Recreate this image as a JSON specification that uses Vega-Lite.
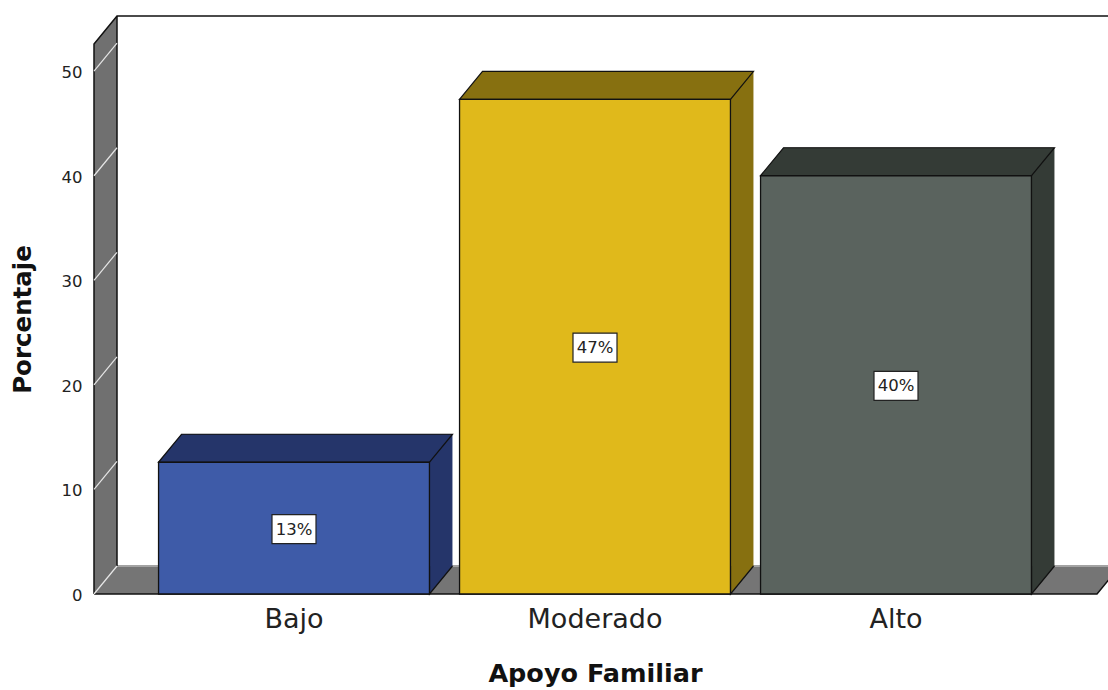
{
  "$schema": "https://vega.github.io/schema/vega-lite/v6.json",
  "width": 1014,
  "height": 550,
  "autosize": "none",
  "padding": {"left": 94, "top": 44, "right": 0, "bottom": 96},
  "background": "white",
  "config": {"view": {"stroke": null}},
  "datasets": {
    "apoyo": [
      {"nivel": "Bajo", "pct": 12.6},
      {"nivel": "Moderado", "pct": 47.3},
      {"nivel": "Alto", "pct": 40.0}
    ],
    "pared": [
      {"x": 0, "y": 0, "y2": 52.6},
      {"x": 23, "y": 2.68, "y2": 55.28}
    ],
    "piso": [
      {"x": 0, "y": 0, "y2": 0},
      {"x": 23, "y": 0, "y2": 2.68},
      {"x": 1003, "y": 0, "y2": 2.68},
      {"x": 1026, "y": 2.68, "y2": 2.68}
    ],
    "bordes": [
      {"borde": "exterior", "n": 1, "x": 0, "y": 0},
      {"borde": "exterior", "n": 2, "x": 0, "y": 52.6},
      {"borde": "exterior", "n": 3, "x": 23, "y": 55.28},
      {"borde": "exterior", "n": 4, "x": 1026, "y": 55.28},
      {"borde": "fondo", "n": 1, "x": 23, "y": 2.68},
      {"borde": "fondo", "n": 2, "x": 23, "y": 55.28},
      {"borde": "frente", "n": 1, "x": 0, "y": 0},
      {"borde": "frente", "n": 2, "x": 1003, "y": 0},
      {"borde": "frente", "n": 3, "x": 1026, "y": 2.68}
    ],
    "rayas": [{"v": 0}, {"v": 10}, {"v": 20}, {"v": 30}, {"v": 40}, {"v": 50}],
    "fondoPiso": [
      {"x": 23, "y": 2.68},
      {"x": 1026, "y": 2.68}
    ]
  },
  "resolve": {"scale": {"x": "independent"}},
  "layer": [
    {
      "layer": [
        {
          "data": {"name": "pared"},
          "mark": {"type": "area", "fill": "#707070", "interpolate": "linear", "opacity": 1},
          "encoding": {
            "x": {"field": "x", "type": "quantitative", "scale": {"domain": [0, 1014], "nice": false}, "axis": null},
            "y": {
              "field": "y", "type": "quantitative",
              "scale": {"domain": [0, 52.6], "nice": false},
              "axis": {
                "title": "Porcentaje", "values": [0, 10, 20, 30, 40, 50],
                "domain": false, "ticks": false, "grid": false,
                "labelFont": "DejaVu Sans", "labelFontSize": 16.5, "labelColor": "#222", "labelPadding": 12, "labelOffset": 1.5,
                "titleFont": "DejaVu Sans", "titleFontSize": 24.5, "titleFontWeight": "bold", "titleColor": "#111", "titlePadding": 26
              }
            },
            "y2": {"field": "y2"}
          }
        },
        {
          "data": {"name": "piso"},
          "mark": {"type": "area", "fill": "#757575", "interpolate": "linear", "opacity": 1},
          "encoding": {
            "x": {"field": "x", "type": "quantitative", "scale": {"domain": [0, 1014], "nice": false}, "axis": null},
            "y": {"field": "y", "type": "quantitative", "scale": {"domain": [0, 52.6], "nice": false}},
            "y2": {"field": "y2"}
          }
        },
        {
          "data": {"name": "fondoPiso"},
          "mark": {"type": "line", "stroke": "#a3a3a3", "strokeWidth": 2},
          "encoding": {
            "x": {"field": "x", "type": "quantitative", "scale": {"domain": [0, 1014], "nice": false}, "axis": null},
            "y": {"field": "y", "type": "quantitative", "scale": {"domain": [0, 52.6], "nice": false}}
          }
        },
        {
          "data": {"name": "bordes"},
          "mark": {"type": "line", "stroke": "#111", "strokeWidth": 1.5},
          "encoding": {
            "x": {"field": "x", "type": "quantitative", "scale": {"domain": [0, 1014], "nice": false}, "axis": null},
            "y": {"field": "y", "type": "quantitative", "scale": {"domain": [0, 52.6], "nice": false}},
            "detail": {"field": "borde"},
            "order": {"field": "n"}
          }
        },
        {
          "data": {"name": "rayas"},
          "mark": {"type": "point", "shape": "M0,0L23,-28", "size": 4, "stroke": "#e6e6e6", "strokeWidth": 1.2, "filled": false, "opacity": 1},
          "encoding": {
            "x": {"datum": 0, "type": "quantitative", "scale": {"domain": [0, 1014], "nice": false}, "axis": null},
            "y": {"field": "v", "type": "quantitative", "scale": {"domain": [0, 52.6], "nice": false}}
          }
        }
      ]
    },
    {
      "data": {"name": "apoyo"},
      "transform": [
        {"calculate": "datum.pct / 2", "as": "medio"},
        {"calculate": "format(datum.pct, '.0f') + '%'", "as": "rotulo"}
      ],
      "encoding": {
        "x": {
          "field": "nivel", "type": "nominal", "sort": null,
          "scale": {"domain": ["Bajo", "Moderado", "Alto"], "range": [49.5, 952.5], "paddingInner": 0.1, "paddingOuter": 0.05},
          "axis": {
            "title": "Apoyo Familiar", "labelAngle": 0, "domain": false, "ticks": false,
            "labelFont": "DejaVu Sans", "labelFontSize": 27, "labelColor": "#222", "labelPadding": 12,
            "titleFont": "DejaVu Sans", "titleFontSize": 25.5, "titleFontWeight": "bold", "titleColor": "#111", "titlePadding": 29
          }
        }
      },
      "resolve": {"scale": {"fill": "independent"}},
      "layer": [
        {
          "mark": {"type": "bar", "xOffset": 23, "yOffset": -28, "y2Offset": -28},
          "encoding": {
            "y": {"field": "pct", "type": "quantitative"},
            "y2": {"datum": 0},
            "fill": {"field": "nivel", "type": "nominal", "legend": null,
              "scale": {"domain": ["Bajo", "Moderado", "Alto"], "range": ["#25356a", "#877010", "#343b36"]}}
          }
        },
        {
          "mark": {"type": "point", "shape": "M135.5,-28L135.5,0L158.5,-28", "size": 4, "filled": true, "stroke": "#111", "strokeWidth": 1.2, "opacity": 1},
          "encoding": {
            "y": {"datum": 0, "type": "quantitative"},
            "fill": {"field": "nivel", "type": "nominal", "legend": null,
              "scale": {"domain": ["Bajo", "Moderado", "Alto"], "range": ["#25356a", "#877010", "#343b36"]}}
          }
        },
        {
          "mark": {"type": "point", "shape": "M-135.5,0L-112.5,-28L158.5,-28L135.5,0Z", "size": 4, "filled": true, "stroke": "#111", "strokeWidth": 1.2, "opacity": 1},
          "encoding": {
            "y": {"field": "pct", "type": "quantitative"},
            "fill": {"field": "nivel", "type": "nominal", "legend": null,
              "scale": {"domain": ["Bajo", "Moderado", "Alto"], "range": ["#25356a", "#877010", "#343b36"]}}
          }
        },
        {
          "mark": {"type": "bar", "stroke": "#111", "strokeWidth": 1.3},
          "encoding": {
            "y": {"field": "pct", "type": "quantitative"},
            "y2": {"datum": 0},
            "fill": {"field": "nivel", "type": "nominal", "legend": null,
              "scale": {"domain": ["Bajo", "Moderado", "Alto"], "range": ["#3e5ba8", "#e0b91b", "#5a635e"]}}
          }
        },
        {
          "mark": {"type": "point", "shape": "M-22,-13.5L22,-13.5L22,15.5L-22,15.5Z", "size": 4, "filled": true, "fill": "white", "stroke": "#222", "strokeWidth": 1.2, "opacity": 1},
          "encoding": {
            "y": {"field": "medio", "type": "quantitative"}
          }
        },
        {
          "mark": {"type": "text", "font": "DejaVu Sans", "fontSize": 16.5, "fill": "#222", "align": "center", "baseline": "middle", "dy": 1.5},
          "encoding": {
            "y": {"field": "medio", "type": "quantitative"},
            "text": {"field": "rotulo"}
          }
        }
      ]
    }
  ]
}
